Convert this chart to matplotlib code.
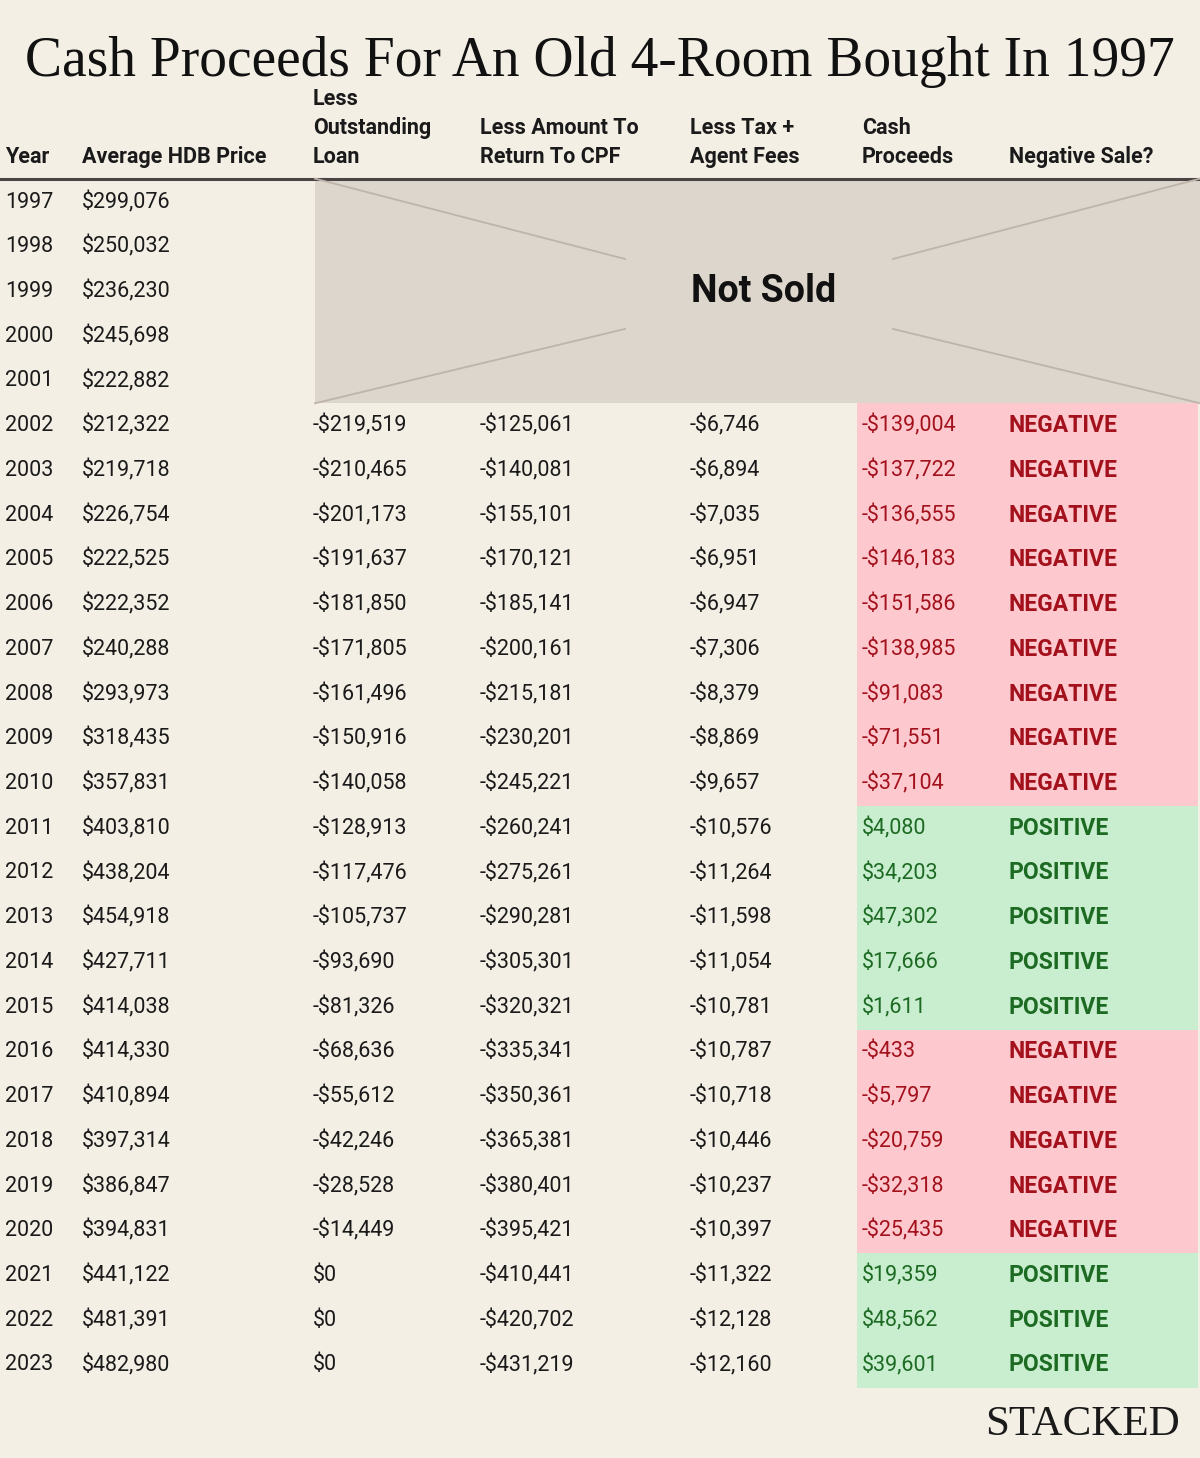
import matplotlib.pyplot as plt
from matplotlib.patches import Rectangle

years = list(range(1997, 2024))
avg_price = [299076, 250032, 236230, 245698, 222882, 212322, 219718, 226754, 222525,
             222352, 240288, 293973, 318435, 357831, 403810, 438204, 454918, 427711,
             414038, 414330, 410894, 397314, 386847, 394831, 441122, 481391, 482980]
# 1997-2001 were not sold, so no values
loan = [None] * 5 + [-219519, -210465, -201173, -191637, -181850, -171805, -161496, -150916,
                     -140058, -128913, -117476, -105737, -93690, -81326, -68636, -55612,
                     -42246, -28528, -14449, 0, 0, 0]
cpf = [None] * 5 + [-125061, -140081, -155101, -170121, -185141, -200161, -215181, -230201,
                    -245221, -260241, -275261, -290281, -305301, -320321, -335341, -350361,
                    -365381, -380401, -395421, -410441, -420702, -431219]
tax = [None] * 5 + [-6746, -6894, -7035, -6951, -6947, -7306, -8379, -8869, -9657, -10576,
                    -11264, -11598, -11054, -10781, -10787, -10718, -10446, -10237, -10397,
                    -11322, -12128, -12160]
cash = [None] * 5 + [-139004, -137722, -136555, -146183, -151586, -138985, -91083, -71551,
                     -37104, 4080, 34203, 47302, 17666, 1611, -433, -5797, -20759, -32318,
                     -25435, 19359, 48562, 39601]

headers = ["Year", "Average HDB Price", "Less\nOutstanding\nLoan", "Less Amount To\nReturn To CPF",
           "Less Tax +\nAgent Fees", "Cash\nProceeds", "Negative Sale?"]

bg = "#f4efe5"
box_col = "#ddd6cc"
red_bg, red_txt = "#fec8cf", "#a3121c"
green_bg, green_txt = "#c8edcf", "#1d6a23"

plt.rcParams['font.family'] = ['Roboto', 'DejaVu Sans']

fig = plt.figure(figsize=(12, 14.58), dpi=100, facecolor=bg)
ax = fig.add_axes([0, 0, 1, 1])
ax.set_xlim(0, 1200)
ax.set_ylim(1458, 0)
ax.axis("off")

col_x = [5, 82, 313, 480, 690, 862, 1009]
row0 = 202
row_h = 44.73


def money(v):
    if v == 0:
        return "$0"
    s = "${:,}".format(abs(v))
    return "-" + s if v < 0 else s


ax.text(600, 62, "Cash Proceeds For An Old 4-Room Bought In 1997", ha="center", va="center",
        fontsize=40, family="Liberation Serif", color="#111111")

for x, h in zip(col_x, headers):
    ax.text(x, 168, h, ha="left", va="bottom", fontsize=15.5, fontweight="bold",
            color="#1a1a1a", linespacing=1.42)

ax.plot([0, 1200], [178.5, 178.5], color="#4a4444", lw=2.2)

# not sold box
nsold = [i for i, c in enumerate(cash) if c is None]
top = row0 - row_h / 2 - 1
bot = row0 + (len(nsold) - 0.5) * row_h
ax.add_patch(Rectangle((315, top), 885, bot - top, color=box_col, lw=0))
cx, cy = 760, (top + bot) / 2
for x0, y0, x1, y1 in [(315, top, 625, cy - 32), (315, bot, 625, cy + 38),
                       (1200, top, 893, cy - 32), (1200, bot, 893, cy + 38)]:
    ax.plot([x0, x1], [y0, y1], color="#bdb4aa", lw=1.3)
ax.text(764, cy + 1, "Not Sold", ha="center", va="center", fontsize=27, fontweight="bold",
        color="#111111")

for i, yr in enumerate(years):
    y = row0 + i * row_h
    ax.text(col_x[0], y, str(yr), ha="left", va="center", fontsize=15.5, color="#1a1a1a")
    ax.text(col_x[1], y, money(avg_price[i]), ha="left", va="center", fontsize=15.5, color="#1a1a1a")
    if cash[i] is None:
        continue
    for x, v in zip(col_x[2:5], [loan[i], cpf[i], tax[i]]):
        ax.text(x, y, money(v), ha="left", va="center", fontsize=15.5, color="#1a1a1a")
    neg = cash[i] < 0
    ax.add_patch(Rectangle((857, y - row_h / 2), 341, row_h + 0.6,
                           color=red_bg if neg else green_bg, lw=0))
    tc = red_txt if neg else green_txt
    ax.text(col_x[5], y, money(cash[i]), ha="left", va="center", fontsize=15.5, color=tc)
    ax.text(col_x[6], y, "NEGATIVE" if neg else "POSITIVE", ha="left", va="center",
            fontsize=16.5, fontweight="bold", color=tc)

ax.text(1180, 1425, "STACKED", ha="right", va="center", fontsize=31, family="Liberation Serif",
        color="#1a1a1a")

fig.savefig("out.png", dpi=100, facecolor=bg)
